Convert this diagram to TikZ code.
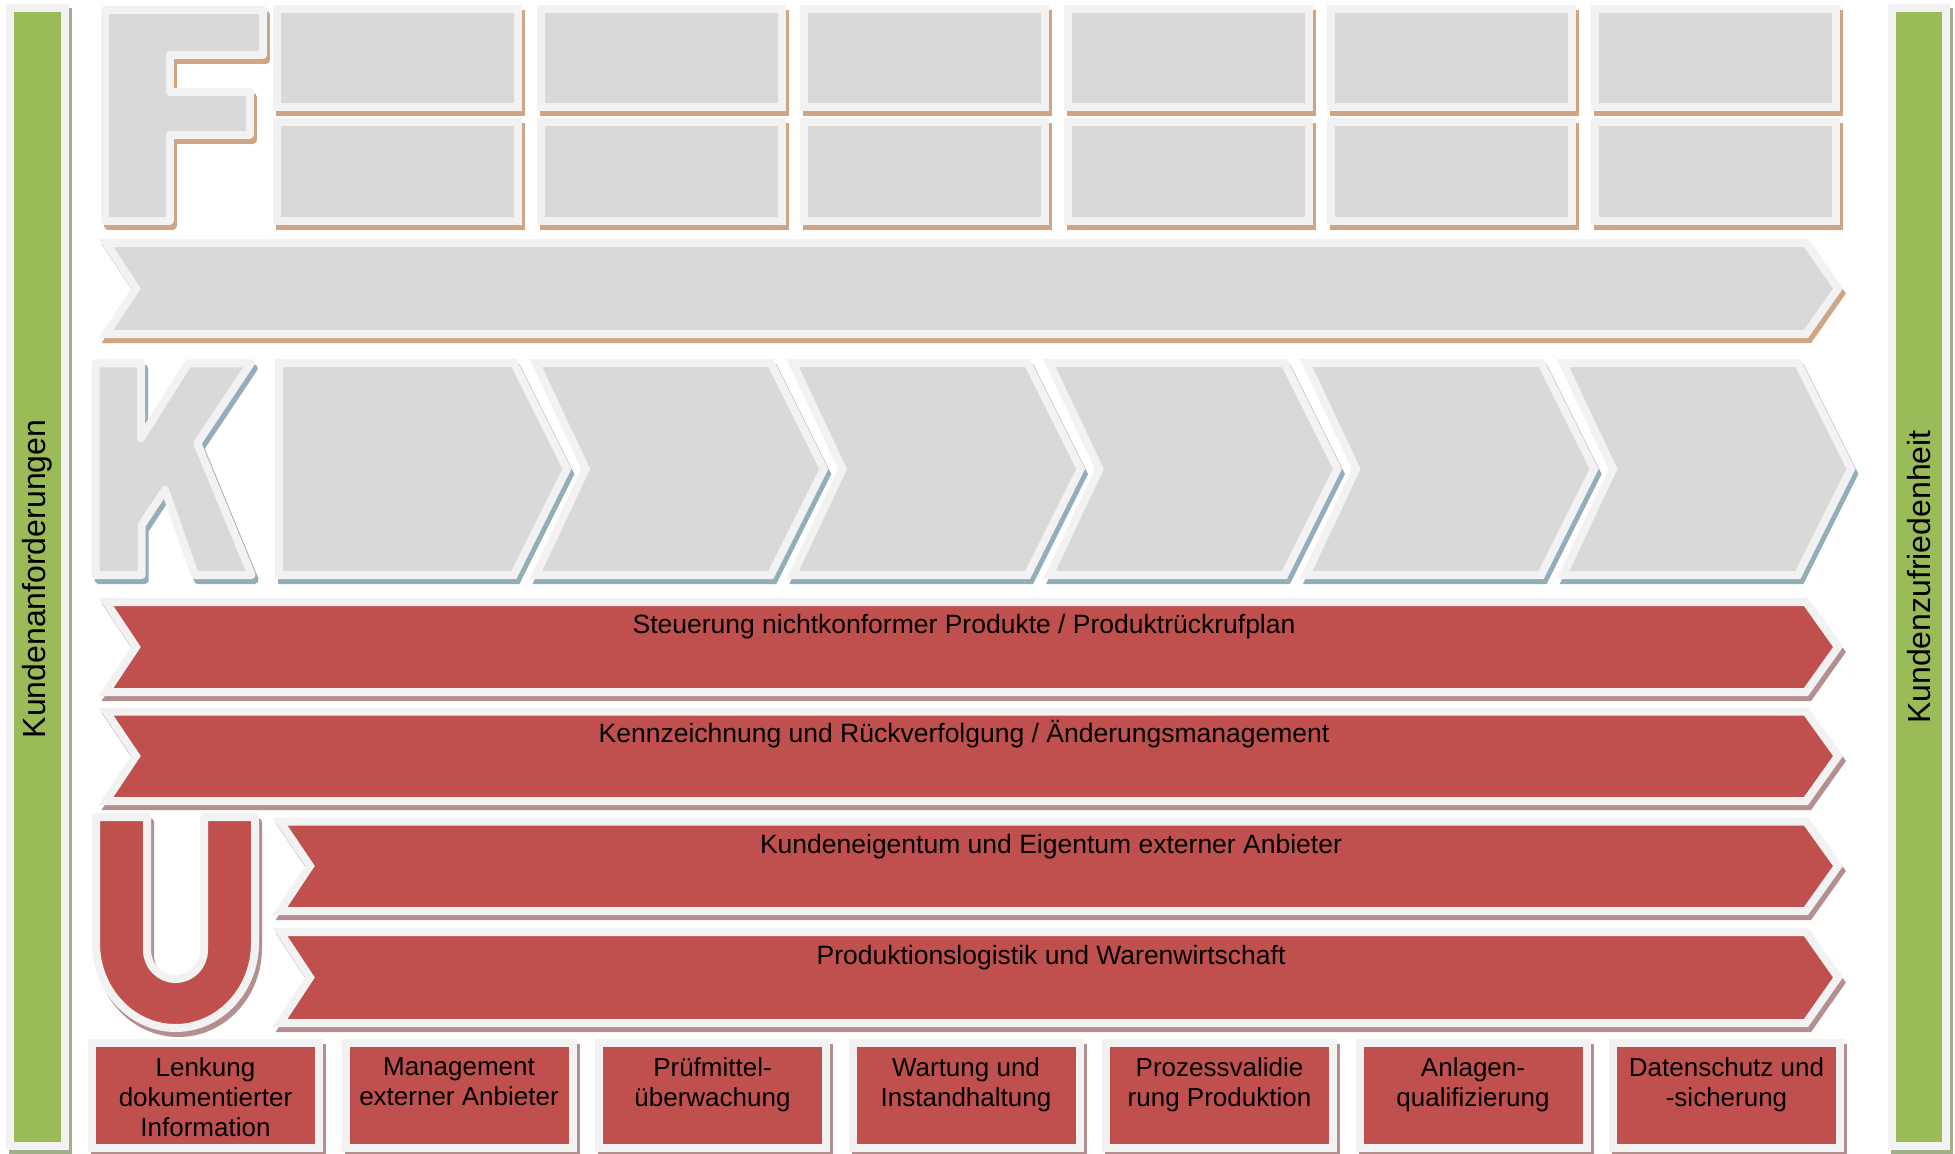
\documentclass[tikz,border=0pt]{standalone}
\usepackage{fontspec}
\setmainfont{Liberation Sans}
\definecolor{lg}{RGB}{242,242,242}
\definecolor{gf}{RGB}{217,217,217}
\definecolor{rf}{RGB}{192,80,77}
\definecolor{gn}{RGB}{155,187,89}
\definecolor{shb}{RGB}{208,165,132}
\definecolor{shk}{RGB}{147,174,185}
\definecolor{shr}{RGB}{181,143,143}
\definecolor{shg}{RGB}{160,176,136}
\newcommand{\dshape}[3]{\path[#2] #3; \path[#1] #3;}
\tikzset{
  gmain/.style={fill=gf,draw=lg,line width=8pt},
  rmain/.style={fill=rf,draw=lg,line width=8pt},
  grmain/.style={fill=gn,draw=lg,line width=8pt},
  sbrown/.style={fill=shb,draw=shb,line width=8pt,shift={(3,5)}},
  sblue/.style={fill=shk,draw=shk,line width=8pt,shift={(3,5)}},
  srose/.style={fill=shr,draw=shr,line width=8pt,shift={(3,5)}},
  sgreen/.style={fill=shg,draw=shg,line width=8pt,shift={(3,4)}},
  letter/.style={line join=round},
  rtext/.style={font=\fontsize{26.5}{30}\selectfont,inner sep=0pt,anchor=base},
  btext/.style={font=\fontsize{26}{30}\selectfont,inner sep=0pt,anchor=north,align=center},
  stext/.style={font=\fontsize{32}{36}\selectfont,inner sep=0pt,rotate=90}
}
\begin{document}
\begin{tikzpicture}[x=1pt,y=-1pt]
\useasboundingbox (0,0) rectangle (1955,1154);
\fill[white] (0,0) rectangle (1955,1154);

% side bars
\dshape{grmain}{sgreen}{(10,8) rectangle (64.5,1146)}
\dshape{grmain}{sgreen}{(1892,8) rectangle (1946,1146)}
\node[stext] (kl) at (37.5,579) {Kundenanforderungen};
\node[stext] (kr) at (1919,577) {Kundenzufriedenheit};

% F letter
\dshape{gmain,letter}{sbrown,letter}{(105,9.5) -- (263,9.5) -- (263,55) -- (169.5,55) -- (169.5,92) -- (249.5,92) -- (249.5,134.5) -- (169.5,134.5) -- (169.5,220.5) -- (105,220.5) -- cycle}

% top boxes
\foreach \i in {0,...,5} {
  \pgfmathsetmacro\xa{277+263.6*\i}
  \pgfmathsetmacro\xb{\xa+241}
  \dshape{gmain}{sbrown}{(\xa,9) rectangle (\xb,107)}
  \dshape{gmain}{sbrown}{(\xa,122) rectangle (\xb,221)}
}

% long grey arrow
\dshape{gmain}{sbrown}{(106,243) -- (1806,243) -- (1838,288.5) -- (1806,334) -- (106,334) -- (136,288.5) -- cycle}

% K letter
\dshape{gmain,letter}{sblue,letter}{(95.7,363.3) -- (141,363.3) -- (141,438) -- (188.3,363.3) -- (250.7,363.3) -- (197.3,443.3) -- (251.7,575) -- (195,575) -- (165,490) -- (141.7,525) -- (141.7,575) -- (95.7,575) -- cycle}

% K chevrons
\dshape{gmain}{sblue}{(279,363) -- ++(235,0) -- ++(53,106) -- ++(-53,106) -- ++(-235,0) -- cycle}
\foreach \i in {1,...,5} {
  \pgfmathsetmacro\xl{279+256.8*\i}
  \dshape{gmain}{sblue}{(\xl,363) -- ++(235,0) -- ++(53,106) -- ++(-53,106) -- ++(-235,0) -- ++(50,-106) -- cycle}
}

% red arrows
\dshape{rmain}{srose}{(106,602) -- (1806,602) -- (1838,647) -- (1806,692) -- (106,692) -- (136,647) -- cycle}
\dshape{rmain}{srose}{(106,711.5) -- (1806,711.5) -- (1838,756) -- (1806,801) -- (106,801) -- (136,756) -- cycle}
\dshape{rmain}{srose}{(280,821.5) -- (1806,821.5) -- (1838,866) -- (1806,911) -- (280,911) -- (310,866) -- cycle}
\dshape{rmain}{srose}{(280,932) -- (1806,932) -- (1838,977.5) -- (1806,1023) -- (280,1023) -- (310,977.5) -- cycle}
\node[rtext] (r1) at (964,633.5) {Steuerung nichtkonformer Produkte / Produktrückrufplan};
\node[rtext] (r2) at (964,742.5) {Kennzeichnung und Rückverfolgung / Änderungsmanagement};
\node[rtext] (r3) at (1051,853.5) {Kundeneigentum und Eigentum externer Anbieter};
\node[rtext] (r4) at (1051,964.5) {Produktionslogistik und Warenwirtschaft};

% U letter
\dshape{rmain,letter}{srose,letter}{(96,817) -- (147,817) -- (147,950) arc[start angle=180,end angle=0,x radius=28.5,y radius=29] -- (204,817) -- (255,817) -- (255,943) arc[start angle=0,end angle=180,x radius=79.5,y radius=85] -- cycle}

% bottom boxes
\foreach \i in {0,...,6} {
  \pgfmathsetmacro\xa{92+253.5*\i}
  \pgfmathsetmacro\xb{\xa+227}
  \dshape{rmain}{srose}{(\xa,1042.5) rectangle (\xb,1148)}
}
\node[btext] (b1) at (205.5,1057.5) {Lenkung\\dokumentierter\\Information};
\node[btext] (b2) at (459,1057.5) {Management\\externer Anbieter};
\node[btext] (b3) at (712.5,1057.5) {Prüfmittel-\\überwachung};
\node[btext] (b4) at (966,1057.5) {Wartung und\\Instandhaltung};
\node[btext] (b5) at (1219.5,1057.5) {Prozessvalidie\\rung Produktion};
\node[btext] (b6) at (1473,1057.5) {Anlagen-\\qualifizierung};
\node[btext] (b7) at (1726.5,1057.5) {Datenschutz und\\-sicherung};
\end{tikzpicture}
\end{document}
